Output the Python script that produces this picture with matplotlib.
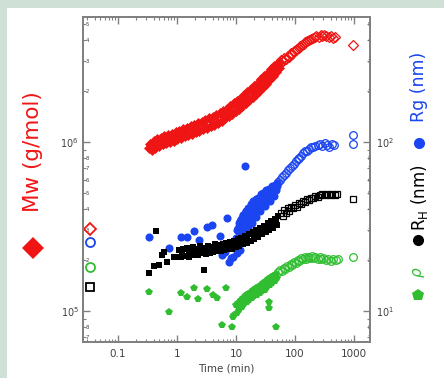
import matplotlib
matplotlib.use('Agg')
import matplotlib.pyplot as plt
from matplotlib.ticker import LogLocator, FuncFormatter
from matplotlib.lines import Line2D
from matplotlib.patches import Rectangle
import numpy as np

# ---------------- data ----------------
# Mw (g/mol, x1e6), filled diamonds
red_t = [0.33, 0.35, 0.38, 0.40, 0.43, 0.46, 0.50, 0.53, 0.57, 0.61, 0.66, 0.71, 0.76, 0.82,
         0.88, 0.95, 1.0, 1.08, 1.15, 1.25, 1.35, 1.45, 1.55, 1.7, 1.8, 1.95, 2.1, 2.25, 2.4,
         2.6, 2.8, 3.0, 3.2, 3.5, 3.7, 4.0, 4.3, 4.6, 5.0, 5.3, 5.7, 6.1, 6.6, 7.0, 7.5, 8.0,
         8.6, 9.2, 9.8, 10.5, 11.2, 12.0, 12.8, 13.7, 14.6, 15.6, 16.7, 17.8, 19.0, 20.3, 21.7,
         23.2, 24.8, 26.5, 28.3, 30.2, 32.3, 34.5, 36.8, 39.3, 42.0, 44.8, 47.8, 51.0, 54.0]
red_mw = [0.92, 0.98, 0.90, 1.01, 0.92, 1.04, 0.95, 1.06, 0.97, 1.08, 0.99, 1.10, 1.00, 1.12,
          1.02, 1.15, 1.04, 1.17, 1.06, 1.19, 1.08, 1.21, 1.10, 1.24, 1.12, 1.27, 1.14, 1.29, 1.17,
          1.32, 1.19, 1.35, 1.21, 1.38, 1.24, 1.41, 1.27, 1.45, 1.30, 1.49, 1.34, 1.53, 1.38, 1.58,
          1.42, 1.64, 1.47, 1.70, 1.53, 1.76, 1.58, 1.83, 1.64, 1.90, 1.70, 1.98, 1.77, 2.06, 1.85,
          2.15, 1.93, 2.25, 2.02, 2.36, 2.12, 2.47, 2.22, 2.58, 2.34, 2.70, 2.46, 2.82, 2.60, 2.92, 2.75]
# Mw open diamonds
red_open_t = [55, 58, 62, 66, 70, 75, 80, 85, 90, 96, 102, 108, 115, 122, 130, 140, 150, 160,
              172, 185, 200, 215, 230, 250, 270, 290, 315, 340, 370, 400, 440, 480, 950]
red_open_mw = [2.95, 3.05, 3.00, 3.15, 3.10, 3.25, 3.20, 3.35, 3.30, 3.45, 3.50, 3.55, 3.62, 3.68,
               3.75, 3.82, 3.90, 3.95, 4.02, 4.08, 4.12, 4.18, 4.22, 4.20, 4.28, 4.25, 4.30, 4.22,
               4.18, 4.25, 4.15, 4.20, 3.75]

# Rg (nm), filled circles
blue_t = [0.34, 0.73, 1.17, 1.48, 1.94, 2.36, 3.2, 3.9, 5.3, 7.0, 14.2, 5.8, 8.2, 6.5, 7.5, 9.0,
          9.5, 10, 10.3, 10.7, 11, 11.3, 11.7, 12, 12.4, 12.8, 13.2, 13.6, 14, 14.5, 15, 15.5, 16,
          16.5, 17, 17.6, 18.2, 18.8, 19.4, 20, 20.7, 21.4, 22, 22.8, 23.6, 24.4, 25.2, 26, 27, 28,
          29, 30, 31, 32, 33, 34.5, 36, 37.5, 39, 40.5, 42, 43.5, 45, 47, 48.5, 50, 10.5, 11.5,
          10.8, 11.6, 12.2, 13, 13.8, 14.8, 15.8, 17.2, 18.5, 20.3, 21.8, 23.2, 25.6, 28.5, 31.5,
          35, 38, 44]
blue_r = [27.4, 23.6, 27.4, 27.4, 29.8, 26.3, 31.4, 32.3, 28, 35.5, 72, 21.4, 20.6, 22.5, 19.5, 21.0,
          24, 27, 30, 25, 33, 28, 31, 35, 29, 33, 37, 31, 35, 39, 33, 37, 41,
          35, 39, 43, 37, 41, 45, 39, 43, 46, 40, 44, 47, 42, 45, 49, 43, 47,
          50, 45, 49, 52, 47, 50, 53, 48, 52, 55, 50, 53, 56, 52, 55, 57, 22, 23,
          31, 34, 26, 37, 28, 39, 31, 41, 33, 43, 36, 45, 39, 48, 42,
          51, 45, 48]
# Rg open circles
blue_open_t = [52, 56, 60, 65, 70, 76, 82, 88, 95, 102, 110, 118, 127, 136, 146, 157, 170, 185,
               200, 220, 240, 260, 290, 320, 350, 380, 420, 460, 950, 950]
blue_open_r = [58, 60, 62, 64, 66, 68, 70, 72, 74, 77, 79, 81, 83, 86, 88, 89, 91, 93,
               94, 95, 96, 97, 95, 99, 96, 94, 97, 96, 110, 98]

# RH (nm), filled squares
black_t = [0.34, 0.44, 0.5, 0.6, 0.68, 0.89, 2.9, 0.4, 0.55,
           1.0, 1.08, 1.17, 1.26, 1.36, 1.47, 1.58, 1.7, 1.83, 1.97, 2.12, 2.28, 2.45, 2.64, 2.84,
           3.06, 3.3, 3.55, 3.82, 4.1, 4.4, 4.75, 5.1, 5.5, 5.9, 6.35, 6.85, 7.4, 7.95, 8.55, 9.2,
           9.9, 10.6, 11.4, 12.3, 13.2, 14.2, 15.3, 16.5, 17.7, 19.0, 20.5, 22.0, 23.7, 25.5, 27.4,
           29.5, 31.7, 34.1, 36.7, 39.5, 42.5, 45.7, 49.0, 52,
           1.2, 1.6, 2.0, 2.6, 3.4, 4.3, 5.3, 6.6, 8.2, 10, 12.5, 15.5, 19, 23, 28, 34, 40, 47]
black_r = [16.8, 29.8, 18.7, 22.3, 19.5, 21, 17.5, 18.5, 21.5,
           20.8, 23.0, 21.0, 23.4, 21.2, 23.6, 21.0, 22.4, 24.0, 21.4, 23.2, 21.6, 24.2, 22.0, 23.6,
           21.8, 24.4, 22.2, 24.0, 22.4, 24.8, 22.6, 24.6, 22.8, 25.0, 23.0, 25.2, 23.2, 25.6, 23.4, 26.0,
           23.8, 26.6, 24.2, 27.2, 24.8, 27.8, 25.4, 28.6, 26.0, 29.4, 26.8, 30.2, 27.6, 31.0, 28.4,
           32.0, 29.2, 33.0, 30.0, 34.0, 31.0, 35.2, 32.2, 36.5,
           22.2, 22.4, 22.6, 22.9, 23.2, 23.5, 23.8, 24.1, 24.6, 25.2, 26.2, 27.2, 28.4, 29.5, 30.6,
           31.8, 33.0, 34.2]
# RH open squares
black_open_t = [58, 62, 66, 70, 75, 80, 86, 92, 100, 108, 116, 125, 135, 145, 157, 170, 185, 200,
                220, 240, 260, 290, 320, 350, 390, 430, 480, 520, 960]
black_open_r = [38, 36.5, 39.5, 38, 40.5, 39, 41.5, 40.5, 42.5, 41.5, 43.5, 43, 45, 44, 46, 45.5,
                47, 46.5, 48, 47.5, 48.5, 49, 48.5, 49, 48.5, 49, 48.5, 49, 46]

# rho, filled pentagons
green_t = [0.34, 0.73, 1.17, 1.48, 1.94, 2.27, 3.2, 4.8, 6.8, 5.8, 8.6, 9.0, 36, 36, 48, 4.0,
           9.3, 9.8, 10.3, 10.8, 11.3, 11.9, 12.5, 13.1, 13.8, 14.5, 15.2, 16.0, 16.8, 17.7, 18.6,
           19.5, 20.5, 21.5, 22.6, 23.8, 25, 26.3, 27.6, 29, 30.5, 32, 33.6, 35.3, 37.1, 39, 41, 43,
           45.2, 47.5, 50, 11, 13, 16, 20, 25, 30, 38, 45]
green_r = [12.9, 9.9, 12.8, 12.1, 13.7, 11.8, 13.5, 11.9, 13.7, 8.3, 8.1, 9.2, 11.3, 10.4, 8.1, 12.5,
           9.5, 10.8, 9.8, 11.2, 10.2, 11.6, 10.6, 12.0, 11.0, 12.4, 11.3, 12.7, 11.6, 13.0, 11.9,
           13.3, 12.2, 13.6, 12.5, 13.9, 12.8, 14.2, 13.1, 14.6, 13.4, 15.0, 13.8, 15.4, 14.2, 15.8,
           14.6, 16.2, 15.0, 16.6, 15.6, 10.5, 11.2, 12.0, 12.8, 13.5, 14.1, 15.0, 15.8]
# rho open circles
green_open_t = [52, 56, 60, 64, 68, 73, 78, 84, 90, 96, 103, 110, 118, 126, 135, 145, 155, 166,
                178, 190, 205, 220, 240, 260, 280, 300, 330, 360, 400, 440, 490, 540, 960]
green_open_r = [17.0, 17.6, 17.2, 18.0, 17.8, 18.6, 18.3, 19.0, 18.8, 19.5, 19.3, 20.0, 19.8,
                20.5, 20.2, 20.8, 20.4, 21.0, 20.6, 21.2, 20.7, 21.0, 20.4, 20.9, 20.2, 20.6, 20.0,
                20.4, 19.9, 20.3, 20.0, 20.2, 21.0]

# reference markers at the left edge
ref_t = 0.0335
ref_mw = 3.06e5
ref_rg = 25.6
ref_rho = 18.3
ref_rh = 13.8

RED = '#f01515'
BLUE = '#1a45f0'
GREEN = '#30be30'
BLACK = '#000000'
GRAY = '#808080'
TXT = '#404040'

W, H = 444, 378
fig = plt.figure(figsize=(W / 100, H / 100), dpi=100)
fig.patch.set_facecolor('#cfe0d6')
fig.patches.append(Rectangle((7 / W, 0), 1, 1 - 8 / H, transform=fig.transFigure,
                             facecolor='white', edgecolor='none', zorder=-10))

ax = fig.add_axes([83 / W, 1 - 342 / H, (370 - 83) / W, (342 - 17) / H])
ax.set_xscale('log')
ax.set_yscale('log')
ax.set_xlim(0.0255, 1860)
ax.set_ylim(6.56e4, 5.5e6)
ax2 = ax.twinx()
ax2.set_yscale('log')
ax2.set_ylim(6.56, 550)

# Mw
ax.plot(red_t, np.array(red_mw) * 1e6, 'D', color=RED, ms=5, mec=RED, mew=0.5, ls='none')
ax.plot(red_open_t, np.array(red_open_mw) * 1e6, 'D', mfc='none', mec=RED, ms=5.2, mew=0.9, ls='none')
ax.plot([ref_t], [ref_mw], 'D', mfc='none', mec=RED, ms=6.5, mew=1.3, ls='none')

# Rg
ax2.plot(blue_t, blue_r, 'o', color=BLUE, ms=5.8, mew=0, ls='none')
ax2.plot(blue_open_t, blue_open_r, 'o', mfc='none', mec=BLUE, ms=5.5, mew=0.9, ls='none')
ax2.plot([ref_t], [ref_rg], 'o', mfc='none', mec=BLUE, ms=6.5, mew=1.3, ls='none')
# RH
ax2.plot(black_t, black_r, 's', color=BLACK, ms=4.6, mew=0, ls='none')
ax2.plot(black_open_t, black_open_r, 's', mfc='none', mec=BLACK, ms=5, mew=0.9, ls='none')
ax2.plot([ref_t], [ref_rh], 's', mfc='none', mec=BLACK, ms=6, mew=1.3, ls='none')
# rho
ax2.plot(green_t, green_r, 'p', color=GREEN, ms=6, mew=0, ls='none')
ax2.plot(green_open_t, green_open_r, 'o', mfc='none', mec=GREEN, ms=5.5, mew=0.9, ls='none')
ax2.plot([ref_t], [ref_rho], 'o', mfc='none', mec=GREEN, ms=6.5, mew=1.3, ls='none')

# ---- ticks ----
def major_fmt(v, pos):
    e = int(round(np.log10(v)))
    return r'$10^{%d}$' % e

def minor_fmt(v, pos):
    e = np.floor(np.log10(v) + 1e-9)
    m = int(round(v / 10 ** e))
    return str(m) if 2 <= m <= 8 else ''

for a in (ax, ax2):
    a.yaxis.set_major_locator(LogLocator(base=10, numticks=10))
    a.yaxis.set_minor_locator(LogLocator(base=10, subs=np.arange(2, 10), numticks=20))
    a.yaxis.set_major_formatter(FuncFormatter(major_fmt))
    a.yaxis.set_minor_formatter(FuncFormatter(minor_fmt))
    for s in a.spines.values():
        s.set_color(GRAY)
        s.set_linewidth(1.3)

ax.xaxis.set_major_locator(LogLocator(base=10, numticks=10))
ax.xaxis.set_minor_locator(LogLocator(base=10, subs=np.arange(2, 10), numticks=20))
ax.xaxis.set_major_formatter(FuncFormatter(lambda v, p: '%g' % v))

ax.tick_params(axis='x', which='both', direction='in', top=True, bottom=True, color=GRAY,
               labelcolor=TXT, labelsize=7.5, pad=5)
ax.tick_params(axis='both', which='major', length=5, width=1.0)
ax.tick_params(axis='both', which='minor', length=2.5, width=0.8)
ax.tick_params(axis='y', which='both', direction='in', left=True, right=False, color=GRAY,
               labelcolor=TXT)
ax.tick_params(axis='y', which='major', labelsize=7, pad=3)
ax.tick_params(axis='y', which='minor', labelsize=3.8, pad=-4.5)

ax2.tick_params(axis='y', which='both', direction='in', right=True, left=False, color=GRAY,
                labelcolor=TXT)
ax2.tick_params(axis='y', which='major', length=5, width=1.0, labelsize=7, pad=4)
ax2.tick_params(axis='y', which='minor', length=2.5, width=0.8, labelsize=3.8, pad=-1.5)

ax.set_xlabel('Time (min)', fontsize=7.5, color=TXT, labelpad=3)

# ---- axis titles with marker keys ----
fig.text(33 / W, 1 - 152 / H, 'Mw (g/mol)', rotation=90, color=RED, fontsize=15.5,
         ha='center', va='center')
fig.add_artist(Line2D([33 / W], [1 - 248 / H], marker='D', color=RED, ms=11, mew=0,
                      transform=fig.transFigure))

fig.text(419 / W, 1 - 87 / H, 'Rg (nm)', rotation=90, color=BLUE, fontsize=12.5,
         ha='center', va='center')
fig.add_artist(Line2D([419 / W], [1 - 143 / H], marker='o', color=BLUE, ms=8, mew=0,
                      transform=fig.transFigure))
fig.text(419 / W, 1 - 198 / H, r'R$_\mathregular{H}$ (nm)', rotation=90, color=BLACK,
         fontsize=12, ha='center', va='center')
fig.add_artist(Line2D([418 / W], [1 - 240 / H], marker='o', color=BLACK, ms=8, mew=0,
                      transform=fig.transFigure))
fig.text(419 / W, 1 - 272 / H, r'$\rho$', rotation=90, color=GREEN, fontsize=11,
         ha='center', va='center')
fig.add_artist(Line2D([418 / W], [1 - 295 / H], marker='p', color=GREEN, ms=9, mew=0,
                      transform=fig.transFigure))

fig.savefig('out.png', dpi=100, facecolor=fig.get_facecolor())
